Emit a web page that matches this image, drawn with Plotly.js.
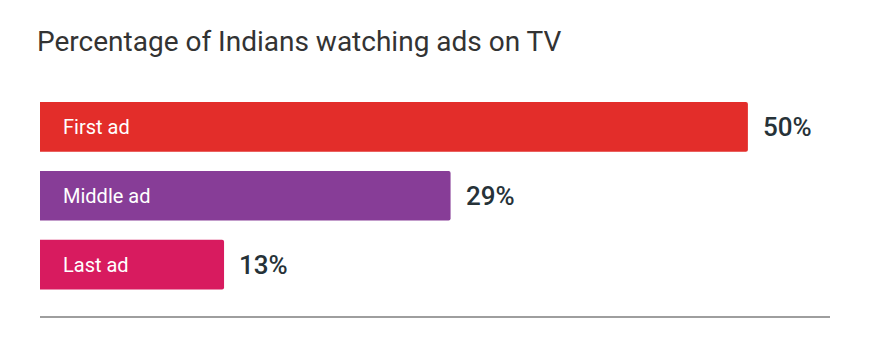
<!DOCTYPE html>
<html>
<head>
<meta charset="utf-8">
<script src="https://cdn.plot.ly/plotly-3.0.1.min.js"></script>
<style>html,body{margin:0;padding:0;background:#fff;}#chart{width:870px;height:357px;}</style>
</head>
<body>
<div id="chart"></div>
<script>
const categories = ["First ad", "Middle ad", "Last ad"];
const values = [50, 29, 13];
const valueLabels = ["50%", "29%", "13%"];
const colors = ["#e32d2a", "#873d97", "#d81b5f"];

const yIdx = categories.map((_, i) => i);

const trace = {
  type: "bar",
  orientation: "h",
  x: values,
  y: yIdx,
  width: 0.72,
  marker: {color: colors, cornerradius: 2},
  hoverinfo: "none"
};

const annotations = [];
categories.forEach((c, i) => {
  annotations.push({
    x: 0, y: i, xref: "x", yref: "y", text: c, showarrow: false,
    xanchor: "left", yanchor: "middle", xshift: 21,
    font: {family: "Roboto", size: 20, color: "#ffffff"}
  });
  annotations.push({
    x: values[i], y: i, xref: "x", yref: "y", text: valueLabels[i], showarrow: false,
    xanchor: "left", yanchor: "middle", xshift: 13,
    font: {family: "Roboto", size: 26, weight: 500, color: "#263238"}
  });
});

const layout = {
  width: 870, height: 357,
  margin: {l: 40, r: 40, t: 80, b: 40},
  paper_bgcolor: "#ffffff", plot_bgcolor: "#ffffff",
  title: {
    text: "Percentage of Indians watching ads on TV",
    x: 37/870, xref: "container", xanchor: "left",
    y: 1 - 41/357, yref: "container", yanchor: "middle",
    font: {family: "Roboto", size: 28, color: "#333333"}
  },
  xaxis: {range: [0, 55.8], showgrid: false, zeroline: false, showticklabels: false,
          showline: false, ticks: "", fixedrange: true},
  yaxis: {range: [2.76, -0.68], showgrid: false, zeroline: false, showticklabels: false,
          ticks: "", fixedrange: true},
  shapes: [{type: "line", xref: "paper", yref: "paper", x0: 0, x1: 1, y0: 0, y1: 0,
            line: {color: "#9e9e9e", width: 2}}],
  annotations: annotations,
  showlegend: false,
  bargap: 0.28
};

Plotly.newPlot("chart", [trace], layout, {displayModeBar: false, staticPlot: true});
</script>
</body>
</html>
